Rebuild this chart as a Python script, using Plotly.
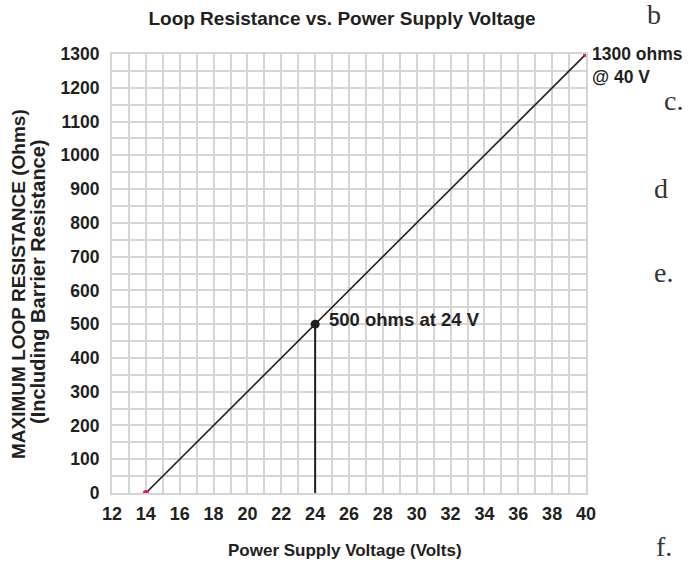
import plotly.graph_objects as go

# Data
voltage = [14, 40]
resistance = [0, 1300]
op_voltage = [24]
op_resistance = [500]
x_ticks = [12, 14, 16, 18, 20, 22, 24, 26, 28, 30, 32, 34, 36, 38, 40]
y_ticks = [0, 100, 200, 300, 400, 500, 600, 700, 800, 900, 1000, 1100, 1200, 1300]
side_letters = ["b", "c.", "d", "e.", "f."]

FONT = "Liberation Sans, Arial, Helvetica, sans-serif"
TXT = "#231f20"
GRID = "#d4d4d4"
PINK = "#e0157a"

W, H = 690, 565
L, R, T, B = 112, 104, 54, 72
PW, PH = W - L - R, H - T - B


def px_to_paper(px, py):
    return (px - L) / PW, (H - B - py) / PH


fig = go.Figure()

fig.add_trace(go.Scatter(x=voltage, y=resistance, mode="lines",
                         line=dict(color=TXT, width=1.6), hoverinfo="skip",
                         showlegend=False))
fig.add_trace(go.Scatter(x=voltage, y=resistance, mode="markers",
                         marker=dict(color=PINK, size=6), showlegend=False))
fig.add_trace(go.Scatter(x=[op_voltage[0], op_voltage[0]], y=[0, op_resistance[0]],
                         mode="lines", line=dict(color=TXT, width=2),
                         showlegend=False))
fig.add_trace(go.Scatter(x=op_voltage, y=op_resistance, mode="markers",
                         marker=dict(color=TXT, size=9), showlegend=False))

fig.add_annotation(x=op_voltage[0], y=op_resistance[0],
                   text="<b>500 ohms at 24 V</b>", showarrow=False,
                   xanchor="left", yanchor="middle", xshift=12, yshift=5,
                   font=dict(family=FONT, size=18.5, color=TXT))
fig.add_annotation(x=voltage[1], y=resistance[1],
                   text="<b>1300 ohms<br>@ 40 V</b>", showarrow=False,
                   xanchor="left", yanchor="top", xshift=4, yshift=12,
                   align="left",
                   font=dict(family=FONT, size=17.5, color=TXT))

# axis titles
ax, ay = px_to_paper(18, 284)
fig.add_annotation(x=ax, y=ay, xref="paper", yref="paper", textangle=-90,
                   text="<b>MAXIMUM LOOP RESISTANCE (Ohms)</b>", showarrow=False,
                   xanchor="center", yanchor="middle",
                   font=dict(family=FONT, size=19, color=TXT))
ax, ay = px_to_paper(38, 282)
fig.add_annotation(x=ax, y=ay, xref="paper", yref="paper", textangle=-90,
                   text="<b>(Including Barrier Resistance)</b>", showarrow=False,
                   xanchor="center", yanchor="middle",
                   font=dict(family=FONT, size=20, color=TXT))
ax, ay = px_to_paper(345, 550)
fig.add_annotation(x=ax, y=ay, xref="paper", yref="paper",
                   text="<b>Power Supply Voltage (Volts)</b>", showarrow=False,
                   xanchor="center", yanchor="middle",
                   font=dict(family=FONT, size=17, color=TXT))

# side letters from surrounding document
letter_pos = [(645, 14), (662, 100), (652, 188), (652, 272), (654, 546)]
for t, (px, py) in zip(side_letters, letter_pos):
    ax, ay = px_to_paper(px, py)
    fig.add_annotation(x=ax, y=ay, xref="paper", yref="paper",
                       text=t, showarrow=False, xanchor="left", yanchor="middle",
                       font=dict(family="Liberation Serif, DejaVu Serif, serif",
                                 size=28, color="#333333"))

fig.update_layout(
    width=W, height=H,
    margin=dict(l=L, r=R, t=T, b=B, autoexpand=False),
    paper_bgcolor="white", plot_bgcolor="white",
    title=dict(text="<b>Loop Resistance vs. Power Supply Voltage</b>",
               x=342 / W, xanchor="center", y=1 - 18 / H, yanchor="middle",
               font=dict(family=FONT, size=19, color=TXT)),
    xaxis=dict(range=[12, 40], tickvals=x_ticks,
               ticktext=[f"<b>{v}</b>" for v in x_ticks],
               showgrid=True, gridcolor=GRID, gridwidth=2,
               minor=dict(dtick=1, tick0=12, showgrid=True, gridcolor=GRID, gridwidth=2),
               showline=True, linecolor=GRID, linewidth=2, mirror=True,
               zeroline=False, ticks="outside", ticklen=3, tickcolor="rgba(0,0,0,0)",
               tickfont=dict(family=FONT, size=18, color=TXT),
               automargin=False, fixedrange=True),
    yaxis=dict(range=[0, 1300], tickvals=y_ticks,
               ticktext=[f"<b>{v}</b>" for v in y_ticks],
               showgrid=True, gridcolor=GRID, gridwidth=2,
               minor=dict(dtick=50, tick0=0, showgrid=True, gridcolor=GRID, gridwidth=2),
               showline=True, linecolor=GRID, linewidth=2, mirror=True,
               zeroline=False, ticks="outside", ticklen=7, tickcolor="rgba(0,0,0,0)",
               tickfont=dict(family=FONT, size=17.5, color=TXT),
               automargin=False, fixedrange=True),
)

fig.write_html("out.html", config={"displayModeBar": False},
               post_script="document.body.style.margin='0';")
